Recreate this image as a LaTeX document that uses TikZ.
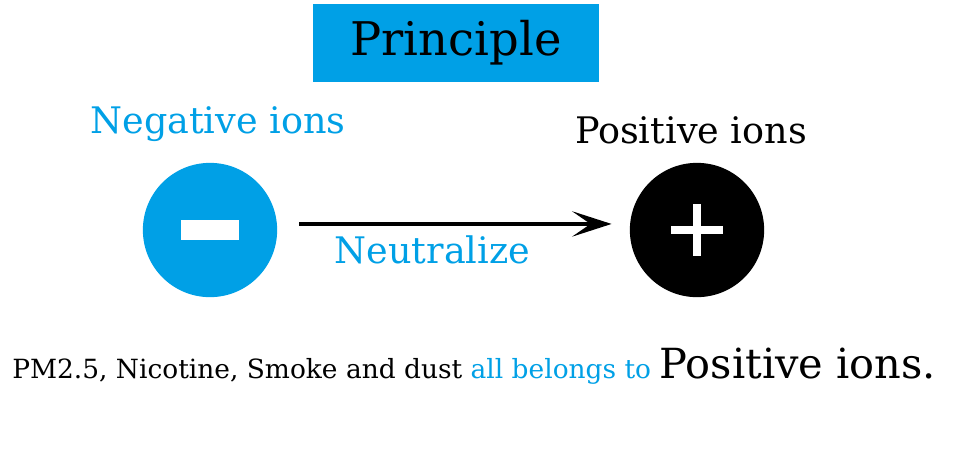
\documentclass[tikz,border=0pt]{standalone}
\usepackage{fontspec}
\setmainfont{DejaVu Serif}
\usetikzlibrary{arrows.meta, positioning}
\definecolor{ionblue}{HTML}{00A0E6}
\tikzstyle{titlebox}=[rectangle, fill=ionblue, minimum width=204pt, minimum height=55.5pt, inner sep=0pt, font=\fontsize{33}{33}\selectfont]
\tikzstyle{ion}=[circle, minimum size=95.5pt, inner sep=0pt]
\tikzstyle{lbl}=[inner sep=0pt, font=\fontsize{26}{26}\selectfont]
\tikzstyle{bar}=[rectangle, fill=white, inner sep=0pt]
\tikzstyle{freccia}=[-{Stealth[length=28pt, width=18pt, inset=13pt]}, line width=3pt, draw=black]

\begin{document}
\begin{tikzpicture}[x=0.025cm, y=-0.025cm]
    \useasboundingbox (0,0) rectangle (960,450);
    \node [titlebox] (title) at (456,43) {Principle};

    \node [ion, fill=ionblue] (neg) at (210,230) {};
    \node [bar, minimum width=41pt, minimum height=14pt] at (neg) {};
    \node [ion, fill=black] (pos) at (697,230) {};
    \node [bar, minimum width=37pt, minimum height=5pt] at (pos) {};
    \node [bar, minimum width=5pt, minimum height=37pt] at (pos) {};

    \node [lbl, text=ionblue] (neglbl) at (218,124) {Negative ions};
    \node [lbl] (poslbl) at (691,130) {Positive ions};

    \draw [freccia, shorten <=15.6pt, shorten >=12.8pt] ([yshift=4.3pt]neg.east) -- ([yshift=4.3pt]pos.west)
        node [pos=0.44, below=7pt, lbl, text=ionblue] (neut) {Neutralize};

    \node [anchor=base west, inner sep=0pt] (summary) at (12,378)
        {\fontsize{18.8}{19}\selectfont PM2.5, Nicotine, Smoke and dust \textcolor{ionblue}{all belongs to} \fontsize{29.5}{29.5}\selectfont Positive ions.};
\end{tikzpicture}
\end{document}
